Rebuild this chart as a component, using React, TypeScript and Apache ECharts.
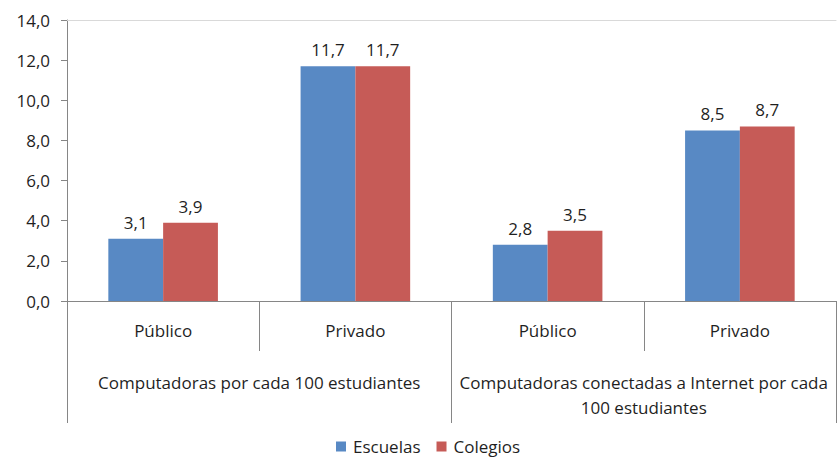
import React, { useEffect, useRef } from "react";
import * as echarts from "echarts";

const subCategories = ["Público", "Privado", "Público", "Privado"];
const groupCategories = [
  "Computadoras por cada 100 estudiantes",
  "Computadoras conectadas a Internet por cada\n100 estudiantes",
];
const escuelas = [3.1, 11.7, 2.8, 8.5];
const colegios = [3.9, 11.7, 3.5, 8.7];
const yTicks = { min: 0, max: 14, interval: 2 };

const FONT = "'Open Sans', 'Noto Sans', sans-serif";
const SIZE = 17;
const TEXT = "#1f1f1f";
const AXIS = "#868686";

const fmt = (v: number) => v.toFixed(1).replace(".", ",");

export default function App() {
  const ref = useRef<HTMLDivElement>(null);

  useEffect(() => {
    if (!ref.current) return;
    const chart = echarts.init(ref.current, undefined, { renderer: "svg" });
    const label = {
      show: true,
      position: "top" as const,
      distance: 8,
      fontFamily: FONT,
      fontSize: SIZE,
      color: TEXT,
      formatter: (p: any) => fmt(p.value),
    };
    chart.setOption({
      animation: false,
      textStyle: { fontFamily: FONT },
      grid: { left: 67, right: 1, top: 20, bottom: 158, containLabel: false },
      legend: {
        top: 438,
        left: 336,
        padding: 0,
        itemWidth: 10,
        itemHeight: 10,
        itemGap: 16,
        icon: "rect",
        textStyle: { fontFamily: FONT, fontSize: SIZE, color: TEXT, padding: [0, 0, 0, 2] },
        data: ["Escuelas", "Colegios"],
      },
      xAxis: [
        {
          type: "category",
          data: subCategories,
          position: "bottom",
          axisLine: { show: true, lineStyle: { color: AXIS, width: 1 } },
          axisTick: { show: true, length: 50, lineStyle: { color: AXIS } },
          axisLabel: { fontFamily: FONT, fontSize: SIZE, color: TEXT, margin: 21 },
        },
        {
          type: "category",
          data: groupCategories,
          position: "bottom",
          axisLine: { show: false },
          axisTick: { show: true, length: 122, lineStyle: { color: AXIS } },
          axisLabel: {
            fontFamily: FONT,
            fontSize: SIZE,
            color: TEXT,
            margin: 69,
            lineHeight: 25,
            interval: 0,
          },
        },
        {
          type: "category",
          data: subCategories,
          position: "top",
          axisLine: { show: true, lineStyle: { color: "#d9d9d9", width: 1 } },
          axisTick: { show: false },
          axisLabel: { show: false },
        },
      ],
      yAxis: {
        type: "value",
        min: yTicks.min,
        max: yTicks.max,
        interval: yTicks.interval,
        axisLine: { show: true, lineStyle: { color: AXIS } },
        axisTick: { show: true, length: 6, lineStyle: { color: AXIS } },
        splitLine: { show: false },
        axisLabel: {
          fontFamily: FONT,
          fontSize: SIZE,
          color: TEXT,
          margin: 17,
          formatter: (v: number) => fmt(v),
        },
      },
      series: [
        {
          name: "Escuelas",
          type: "bar",
          data: escuelas,
          barGap: "0%",
          barCategoryGap: "43%",
          itemStyle: { color: "#5889C4" },
          label,
        },
        {
          name: "Colegios",
          type: "bar",
          data: colegios,
          itemStyle: { color: "#C65B57" },
          label,
        },
      ],
    });
    return () => chart.dispose();
  }, []);

  return <div ref={ref} style={{ width: 837, height: 459, position: "absolute", left: 0, top: 0 }} />;
}
